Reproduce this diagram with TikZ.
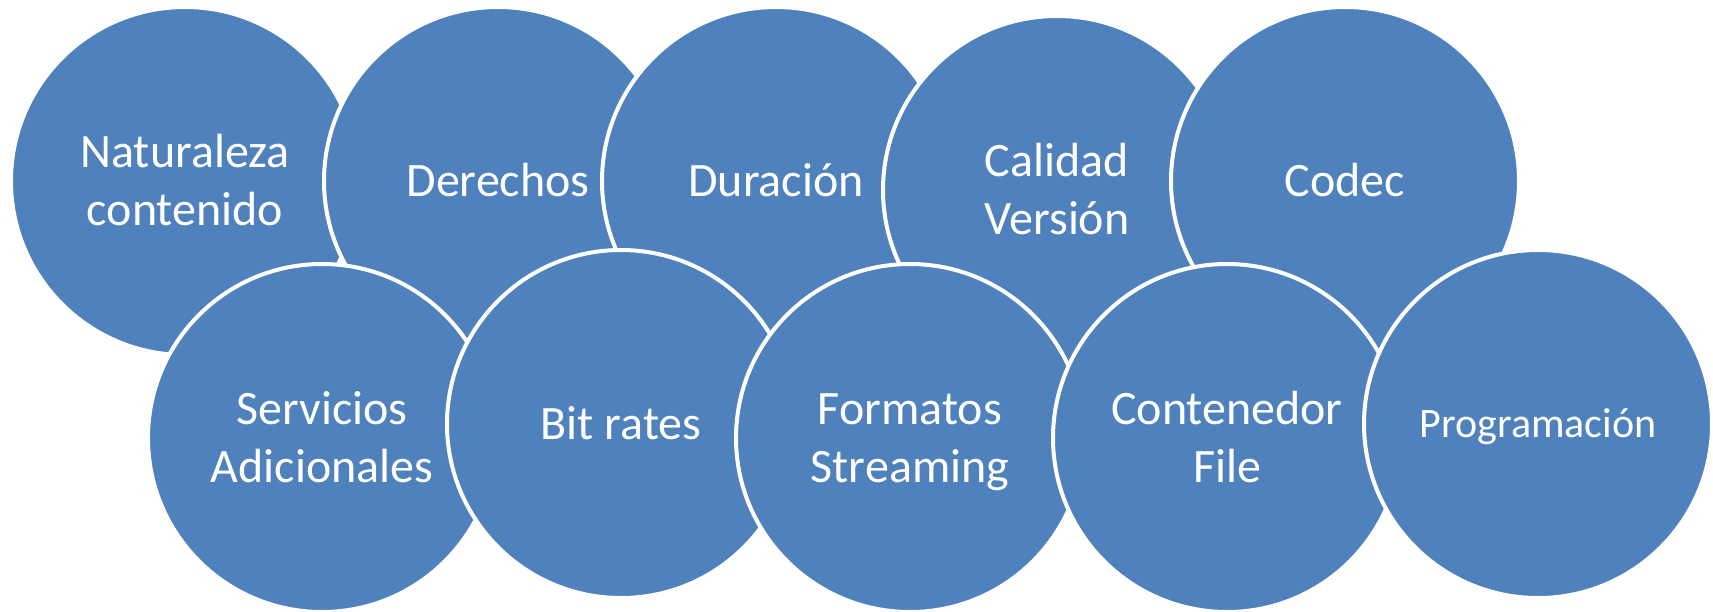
\documentclass[tikz,border=0pt]{standalone}
\usepackage{fontspec}
\setmainfont{Carlito}
\definecolor{blu}{HTML}{4F81BD}
\begin{document}
\begin{tikzpicture}[x=1pt,y=-1pt,
  bub/.style={circle, fill=blu, draw=white, line width=4pt, minimum size=348pt,
    inner sep=0pt, text=white, align=center, font=\fontsize{48}{58}\selectfont,
    text height=31pt, text depth=0pt},
  twoline/.style={text height=89pt}]
\useasboundingbox (0,0) rectangle (1713,611);
\node[bub, twoline] (nat) at (185,181) {Naturaleza\\contenido};
\node[bub] (der) at (498,181) {Derechos};
\node[bub] (dur) at (776,181) {Duración};
\node[bub, twoline] (cal) at (1057,190) {Calidad\\Versión};
\node[bub] (cod) at (1345,181) {Codec};
\node[bub, twoline] (ser) at (322,438) {Servicios\\Adicionales};
\node[bub] (bit) at (621,424) {Bit rates};
\node[bub, twoline] (for) at (910,438) {Formatos\\Streaming};
\node[bub, twoline] (con) at (1227,438) {Contenedor\\File};
\node[bub, font=\fontsize{42}{50}\selectfont, text height=27pt] (pro) at (1538,424) {Programación};
\end{tikzpicture}
\end{document}
